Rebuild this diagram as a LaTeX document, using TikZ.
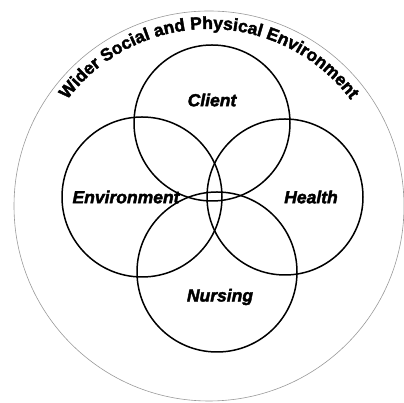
\documentclass[tikz,border=0pt]{standalone}
\usepackage{fontspec}
\setmainfont{Liberation Sans}[BoldFeatures={FakeBold=2.2},BoldItalicFeatures={FakeBold=2.2}]
\usetikzlibrary{calc,decorations.text}
\tikzset{
  ring/.style={line width=1.5pt},            % the four concept circles
  world/.style={gray!80, line width=0.6pt},  % outer environment circle
  lbl/.style={font=\fontsize{17.5}{17.5}\selectfont\bfseries\itshape}
}

\begin{document}
\begin{tikzpicture}[x=1pt,y=1pt]
  \useasboundingbox (0,0) rectangle (404,403);

  % outer circle
  \coordinate (wider) at (209,197);
  \draw[world] (wider) circle[radius=195];

  % concept circles
  \foreach \n/\x/\y/\r in {client/212/280/78, environ/142/206/80,
                           health/285/206/78, nursing/217/131/80}{
    \coordinate (\n) at (\x,\y);
    \draw[ring] (\n) circle[radius=\r];
  }

  \node[lbl] (clientlbl)  at (212,303) {Client};
  \node[lbl] (environlbl) at (126,206) {Environment};
  \node[lbl] (healthlbl)  at (311,206) {Health};
  \node[lbl] (nursinglbl) at (220,106) {Nursing};

  % curved title along the outer circle
  \path[decorate, decoration={text along path, text align=center,
        text={|\fontsize{17.5}{17.5}\selectfont\bfseries|Wider Social and Physical Environment}}]
    ($(wider)+(162:177)$) arc[start angle=162, end angle=18, radius=177];
\end{tikzpicture}
\end{document}
